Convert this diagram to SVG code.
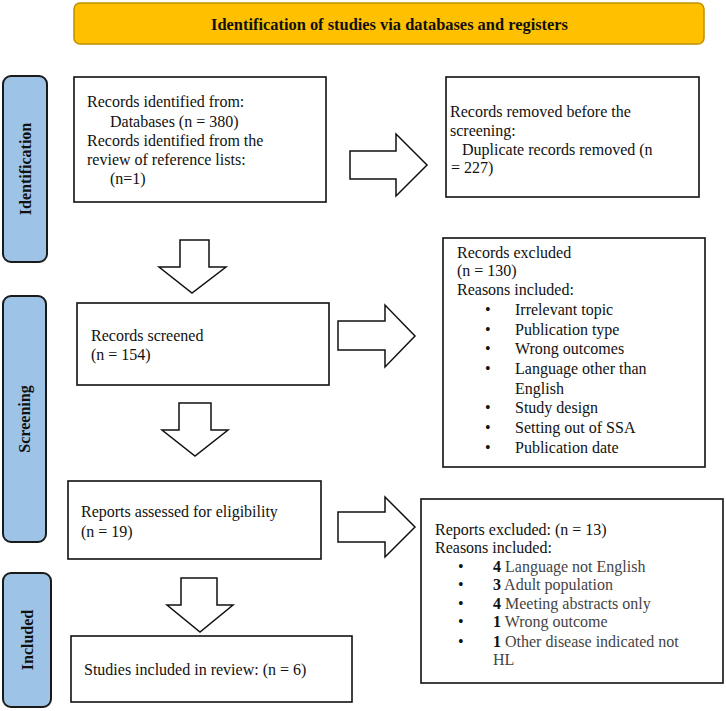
<svg xmlns="http://www.w3.org/2000/svg" width="726" height="711" viewBox="0 0 726 711">
<style>
text{font-family:"Liberation Serif","Times New Roman",serif;font-size:16px;fill:#111}
.box{fill:#fff;stroke:#111;stroke-width:1.6}
.side{fill:#9dc3e6;stroke:#1a1a1a;stroke-width:2}
.st{font-weight:bold;font-size:16px;text-anchor:middle}
.arr{fill:#fff;stroke:#111;stroke-width:1.5;stroke-linejoin:miter}
.g{fill:#444}
.b{font-weight:bold;fill:#111}
</style>
<rect width="726" height="711" fill="#fff"/>
<g id="header">
<rect x="74" y="3" width="630" height="41" rx="6" fill="#ffc000" stroke="#bf9000" stroke-width="1.5"/>
<text x="211" y="30" textLength="357" lengthAdjust="spacingAndGlyphs" style="font-weight:bold;font-size:17.5px">Identification of studies via databases and registers</text>
</g>
<g id="side-identification">
<rect class="side" x="3" y="76" width="44" height="186" rx="8"/>
<text class="st" transform="translate(31,169) rotate(-90)">Identification</text>
</g>
<g id="side-screening">
<rect class="side" x="3" y="296" width="43" height="246" rx="8"/>
<text class="st" transform="translate(30,419) rotate(-90)">Screening</text>
</g>
<g id="side-included">
<rect class="side" x="3" y="573" width="48" height="134" rx="8"/>
<text class="st" transform="translate(33,640) rotate(-90)">Included</text>
</g>
<g id="records-identified">
<rect class="box" x="74" y="77" width="252" height="125"/>
<text x="87" y="107">Records identified from:</text>
<text x="110" y="127">Databases (n = 380)</text>
<text x="87" y="146">Records identified from the</text>
<text x="87" y="165">review of reference lists:</text>
<text x="110" y="184">(n=1)</text>
</g>
<g id="records-removed">
<rect class="box" x="446" y="77" width="253" height="120"/>
<text x="450" y="117">Records removed before the</text>
<text x="450" y="136">screening:</text>
<text x="462" y="155">Duplicate records removed (n</text>
<text x="451" y="173">= 227)</text>
</g>
<g id="records-screened">
<rect class="box" x="77" y="303" width="252" height="82"/>
<text x="91" y="341">Records screened</text>
<text x="91" y="360">(n = 154)</text>
</g>
<g id="records-excluded">
<rect class="box" x="443" y="238" width="262" height="229"/>
<text x="457" y="258">Records excluded</text>
<text x="457" y="276">(n = 130)</text>
<text x="457" y="295">Reasons included:</text>
<text x="485" y="315">•</text><text x="515" y="315">Irrelevant topic</text>
<text x="485" y="335">•</text><text x="515" y="335">Publication type</text>
<text x="485" y="354">•</text><text x="515" y="354">Wrong outcomes</text>
<text x="485" y="374">•</text><text x="515" y="374">Language other than</text>
<text x="515" y="394">English</text>
<text x="485" y="413">•</text><text x="515" y="413">Study design</text>
<text x="485" y="433">•</text><text x="515" y="433">Setting out of SSA</text>
<text x="485" y="453">•</text><text x="515" y="453">Publication date</text>
</g>
<g id="reports-assessed">
<rect class="box" x="68" y="481" width="253" height="78"/>
<text x="81" y="517">Reports assessed for eligibility</text>
<text x="81" y="537">(n = 19)</text>
</g>
<g id="reports-excluded">
<rect class="box" x="421" y="499" width="302" height="184"/>
<text x="435" y="535">Reports excluded: (n = 13)</text>
<text x="435" y="553">Reasons included:</text>
<text x="458" y="572">•</text><text x="493" y="572" class="g"><tspan class="b">4</tspan> Language not English</text>
<text x="458" y="590">•</text><text x="493" y="590" class="g"><tspan class="b">3</tspan> Adult population</text>
<text x="458" y="609">•</text><text x="493" y="609" class="g"><tspan class="b">4</tspan> Meeting abstracts only</text>
<text x="458" y="627">•</text><text x="493" y="627" class="g"><tspan class="b">1</tspan> Wrong outcome</text>
<text x="458" y="647">•</text><text x="493" y="647" class="g"><tspan class="b">1</tspan> Other disease indicated not</text>
<text x="493" y="665" class="g">HL</text>
</g>
<g id="studies-included">
<rect class="box" x="71" y="636" width="281" height="66"/>
<text x="84" y="675">Studies included in review: (n = 6)</text>
</g>
<g id="connectors">
<polygon class="arr" points="350,151 396,151 396,134 427,165 396,196 396,179 350,179"/>
<polygon class="arr" points="338,321 385,321 385,305 415,336 385,367 385,350 338,350"/>
<polygon class="arr" points="338,512 385,512 385,497 415,527 385,557 385,542 338,542"/>
<polygon class="arr" points="180,240 209,240 209,267 226,267 192,293 159,267 180,267"/>
<polygon class="arr" points="179,403 211,403 211,430 228,430 195,456 162,430 179,430"/>
<polygon class="arr" points="181,578 217,578 217,605 233,605 200,632 167,605 181,605"/>
</g>
</svg>
